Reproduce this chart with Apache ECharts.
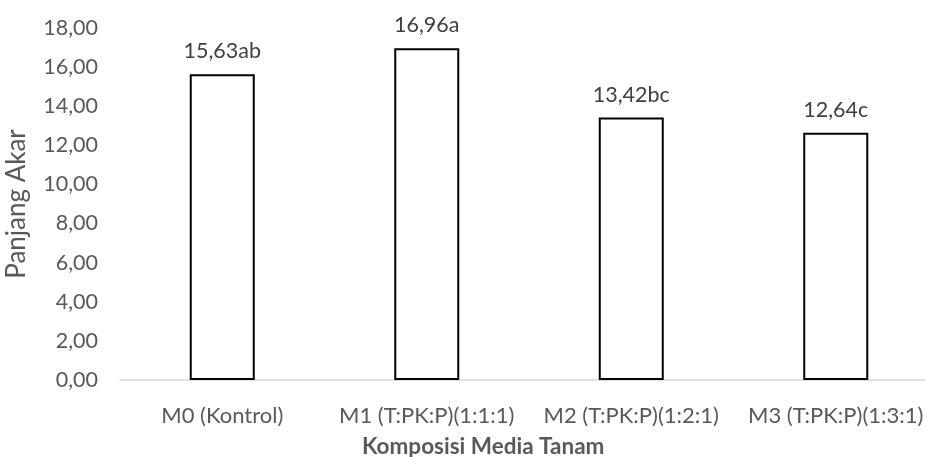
<!DOCTYPE html>
<html>
<head>
<meta charset="utf-8">
<script src="https://cdn.jsdelivr.net/npm/echarts@6/dist/echarts.min.js"></script>
<style>html,body{margin:0;padding:0;background:#fff}#c{width:926px;height:457px}</style>
</head>
<body>
<div id="c"></div>
<script>
var categories = ['M0 (Kontrol)', 'M1 (T:PK:P)(1:1:1)', 'M2 (T:PK:P)(1:2:1)', 'M3 (T:PK:P)(1:3:1)'];
var values = [15.63, 16.96, 13.42, 12.64];
var letters = ['ab', 'a', 'bc', 'c'];
var yTicks = { min: 0, max: 18, interval: 2 };

var chart = echarts.init(document.getElementById('c'));
var FONT = 'Lato';
function fmt(v) { return v.toFixed(2).replace('.', ','); }
chart.setOption({
  animation: false,
  textStyle: { fontFamily: FONT },
  graphic: [{
    type: 'text',
    left: 362, top: 435,
    style: {
      text: 'Komposisi Media Tanam',
      font: 'bold 22.5px Lato',
      fill: '#595959'
    }
  }],
  grid: { left: 120, right: -12, top: 28, bottom: 77, outerBoundsMode: 'none', containLabel: false },
  xAxis: {
    type: 'category',
    data: categories,
    axisLine: { lineStyle: { color: '#d9d9d9', width: 1.5 } },
    axisTick: { show: false },
    axisLabel: { color: '#595959', fontSize: 22, margin: 25, fontFamily: FONT, interval: 0 }
  },
  yAxis: {
    type: 'value',
    min: yTicks.min, max: yTicks.max, interval: yTicks.interval,
    name: 'Panjang Akar',
    nameLocation: 'middle',
    nameGap: 90,
    nameTextStyle: { color: '#595959', fontSize: 26, fontFamily: FONT },
    axisLine: { show: false },
    axisTick: { show: false },
    splitLine: { show: false },
    axisLabel: { color: '#595959', fontSize: 21.5, margin: 22, fontFamily: FONT, formatter: fmt }
  },
  series: [{
    type: 'bar',
    data: values,
    barWidth: 65,
    itemStyle: { color: '#ffffff', borderColor: '#000000', borderWidth: 2 },
    label: {
      show: true, position: 'top', distance: 12,
      color: '#404040', fontSize: 21.5, fontFamily: FONT,
      formatter: function (p) { return fmt(p.value) + letters[p.dataIndex]; }
    }
  }]
});
</script>
</body>
</html>
